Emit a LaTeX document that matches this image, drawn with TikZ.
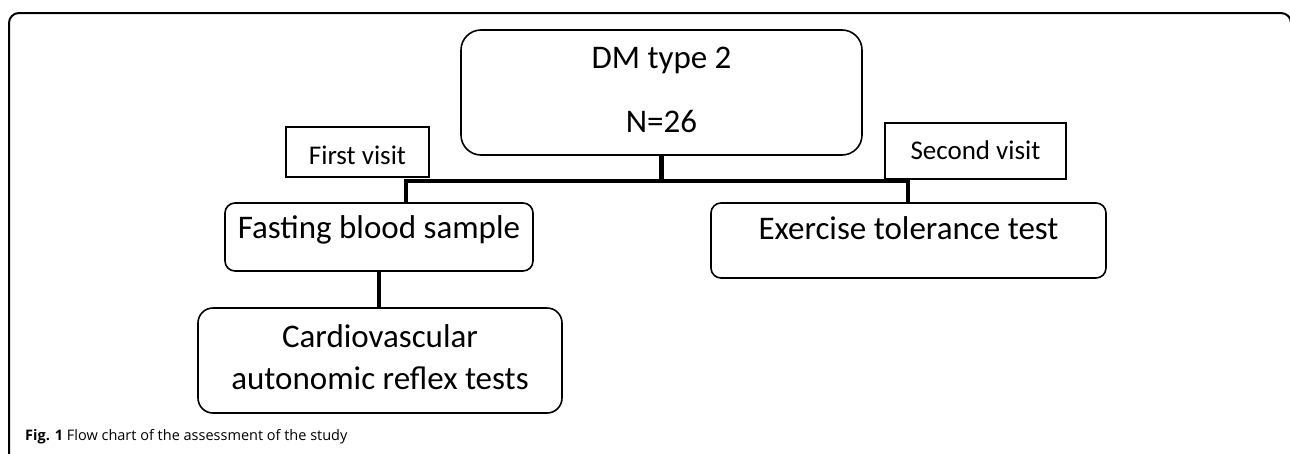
\documentclass[tikz,border=0pt]{standalone}
\usepackage{fontspec}
\setmainfont{Carlito}
\newfontfamily\capfont{Open Sans}

\begin{document}
\begin{tikzpicture}[x=1pt,y=-1pt,
  roundbox/.style={draw,line width=1.6pt,rounded corners=#1,inner sep=0pt,align=center,font=\fontsize{33}{42}\selectfont},
  roundbox/.default=10pt,
  visitbox/.style={draw,line width=1.6pt,inner sep=0pt,font=\fontsize{27}{32}\selectfont},
  conn/.style={line width=4.5pt}]
\useasboundingbox (0,0) rectangle (1290,453);
\draw[line width=2pt,rounded corners=10pt] (9,470) -- (9,13) -- (1291,13) -- (1291,470);
\node[roundbox=20pt,minimum width=401pt,minimum height=125pt,text height=85pt,text depth=6pt,font=\fontsize{33}{64}\selectfont] (dm) at (661.5,92.5) {DM type 2\\N=26};
\node[visitbox,minimum width=143pt,minimum height=50pt,text height=24pt,text depth=0pt] (first) at (357.5,152) {First visit};
\node[visitbox,minimum width=181pt,minimum height=56pt,text height=16pt,text depth=0pt] (second) at (975.5,151) {Second visit};
\node[roundbox,minimum width=308pt,minimum height=68pt,text height=23pt,text depth=21pt] (fasting) at (379,237) {Fasting blood sample};
\node[roundbox,minimum width=395pt,minimum height=75pt,text height=20pt,text depth=23pt] (exercise) at (908.5,240.5) {Exercise tolerance test};
\node[roundbox=15pt,minimum width=364pt,minimum height=105pt,text height=63pt,text depth=6pt] (cardio) at (380,360.5) {Cardiovascular\\autonomic reflex tests};
\coordinate (jl) at (406,181);
\coordinate (jr) at (908,181);
\draw[conn] (dm.south) -- (dm.south |- jl);
\draw[conn] (jl |- fasting.north) -- (jl) -- (jr) -- (jr |- exercise.north);
\draw[conn] (fasting.south) -- (fasting.south |- cardio.north);
\node[anchor=base west,inner sep=0pt,font=\capfont\fontsize{14.5}{17}\selectfont] (caption) at (25,440) {\textbf{Fig. 1} Flow chart of the assessment of the study};
\end{tikzpicture}
\end{document}
